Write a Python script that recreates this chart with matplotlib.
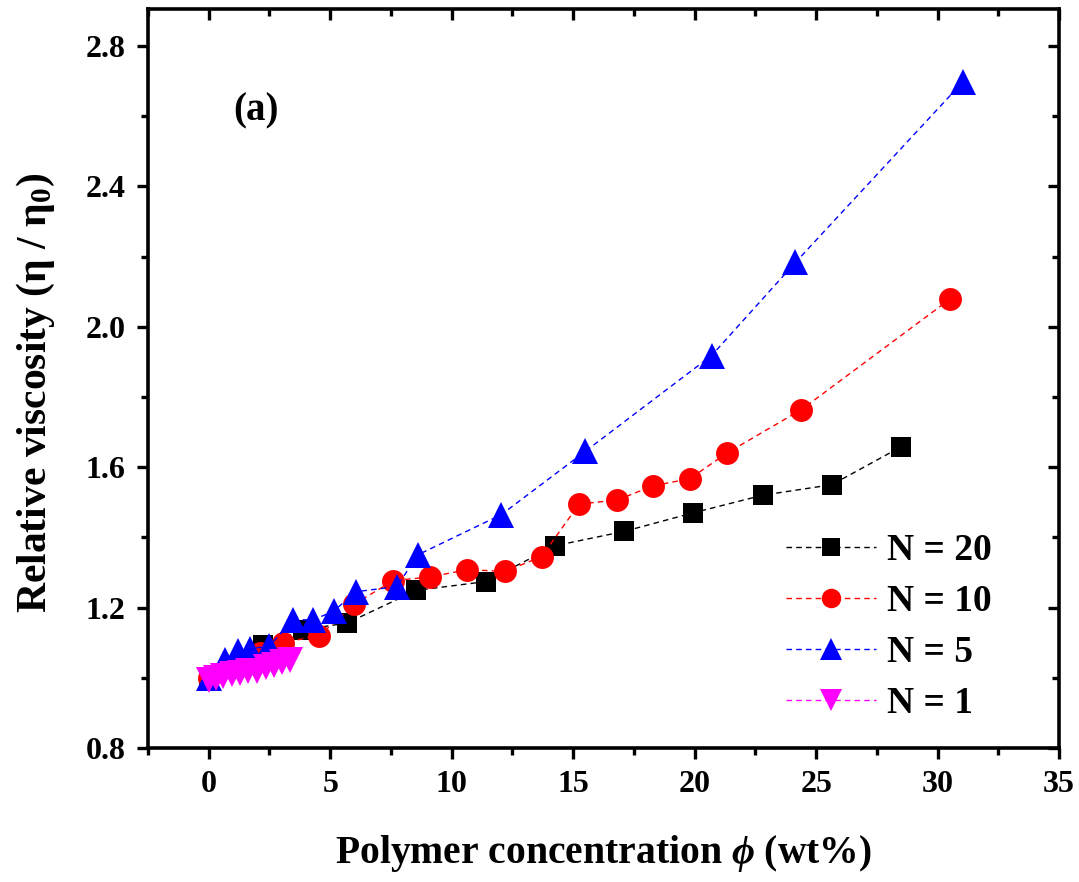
import matplotlib
matplotlib.use("Agg")
import matplotlib.pyplot as plt
from matplotlib.ticker import MultipleLocator

plt.rcParams['font.family'] = ['Liberation Serif', 'DejaVu Serif']
plt.rcParams['font.weight'] = 'bold'
plt.rcParams['mathtext.fontset'] = 'custom'
plt.rcParams['mathtext.rm'] = 'Liberation Serif:bold'
plt.rcParams['mathtext.it'] = 'Liberation Serif:bold:italic'
plt.rcParams['mathtext.bf'] = 'Liberation Serif:bold'

# ---- data ----
n20_x = [0, 2.25, 3.9, 5.7, 8.55, 11.4, 14.25, 17.1, 19.95, 22.8, 25.65, 28.5]
n20_y = [1.00, 1.094, 1.137, 1.156, 1.249, 1.274, 1.376, 1.417, 1.47, 1.52, 1.55, 1.658]

n10_x = [0, 2.1, 3.05, 4.55, 6.0, 7.6, 9.1, 10.65, 12.2, 13.7, 15.25, 16.8, 18.3, 19.8, 21.35, 24.4, 30.5]
n10_y = [1.0, 1.07, 1.10, 1.12, 1.21, 1.277, 1.287, 1.308, 1.303, 1.345, 1.495, 1.506, 1.547, 1.567, 1.641, 1.764, 2.078]

n5_x = [0, 0.65, 1.2, 1.7, 2.5, 3.45, 4.3, 5.15, 6.05, 7.75, 8.6, 12.05, 15.5, 20.7, 24.15, 31.05]
n5_y = [1.0, 1.05, 1.075, 1.083, 1.09, 1.165, 1.165, 1.19, 1.245, 1.26, 1.35, 1.465, 1.645, 1.918, 2.183, 2.698]

n1_x = [0, 0.3, 0.6, 0.95, 1.3, 1.6, 2.0, 2.35, 2.7, 3.0, 3.35]
n1_y = [0.995, 1.0, 1.005, 1.01, 1.015, 1.02, 1.02, 1.03, 1.035, 1.045, 1.05]

labels = ['N = 20', 'N = 10', 'N = 5', 'N = 1']
colors = ['#000000', '#FF0000', '#0000FF', '#FF00FF']
markers = ['s', 'o', '^', 'v']
sizes = [14.5, 16.5, 19, 19]

fig = plt.figure(figsize=(10.79, 8.82), dpi=100)
ax = fig.add_axes([148/1079, 1 - 748/882, (1059-148)/1079, (748-9)/882])

series = [(n20_x, n20_y), (n10_x, n10_y), (n5_x, n5_y), (n1_x, n1_y)]
for (xs, ys), lab, c, m, s in zip(series, labels, colors, markers, sizes):
    ax.plot(xs, ys, color=c, linestyle=(0, (4, 3)), linewidth=1.0,
            marker=m, markersize=s, markerfacecolor=c, markeredgecolor=c,
            markeredgewidth=0, label=lab)

ax.set_xlim(-2.5, 35)
ax.set_ylim(0.8, 2.905)
ax.xaxis.set_minor_locator(MultipleLocator(2.5))
ax.yaxis.set_minor_locator(MultipleLocator(0.2))
ax.set_yticks([0.8, 1.2, 1.6, 2.0, 2.4, 2.8])
ax.set_yticklabels(['0.8', '1.2', '1.6', '2.0', '2.4', '2.8'])
ax.set_xticks([0, 5, 10, 15, 20, 25, 30, 35])

for sp in ax.spines.values():
    sp.set_linewidth(2.6)

ax.tick_params(which='major', direction='out', length=8, width=2.4,
               labelsize=23, pad=8)
ax.tick_params(which='minor', direction='out', length=5, width=2.4)
ax.tick_params(which='both', top=True, right=True)
# top/right ticks inward
for t in ax.xaxis.get_major_ticks() + ax.xaxis.get_minor_ticks():
    t.tick2line.set_marker(matplotlib.markers.TICKDOWN)
for t in ax.yaxis.get_major_ticks() + ax.yaxis.get_minor_ticks():
    t.tick2line.set_marker(matplotlib.markers.TICKLEFT)

for lbl in ax.get_xticklabels() + ax.get_yticklabels():
    lbl.set_fontweight('bold')

ax.set_xlabel('Polymer concentration $\\mathit{ϕ}$ (wt%)', fontsize=28.5,
              fontweight='bold', labelpad=24)
ax.set_ylabel('Relative viscosity (η / η$_0$)', fontsize=30,
              fontweight='bold')
ax.yaxis.set_label_coords(-0.1, 0.48)

ax.text(1.95, 2.615, '(a)', fontsize=28, fontweight='bold', ha='center', va='center')

leg = ax.legend(loc='center left', bbox_to_anchor=(786/1079, 1 - 627/882),
                bbox_transform=fig.transFigure, frameon=False, fontsize=27,
                handlelength=2.4, handletextpad=0.3, labelspacing=0.42,
                borderpad=0, borderaxespad=0, markerscale=0.85)

fig.savefig('out.png', dpi=100)
